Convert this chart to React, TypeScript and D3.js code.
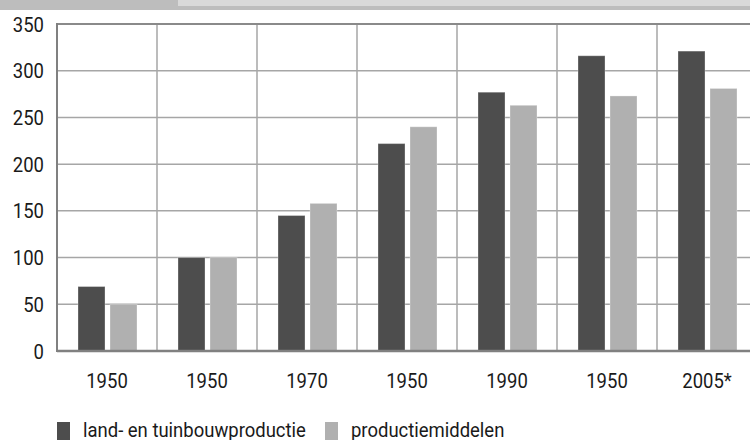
import React, { useRef, useEffect } from 'react';
import * as d3 from 'd3';

const categories = ['1950', '1950', '1970', '1950', '1990', '1950', '2005*'];
const productie = [69, 100, 145, 222, 277, 316, 321];
const middelen = [50, 100, 158, 240, 263, 273, 281];
const seriesNames = ['land- en tuinbouwproductie', 'productiemiddelen'];
const yTicks = [0, 50, 100, 150, 200, 250, 300, 350];

const colors = ['#4d4d4d', '#b0b0b0'];
const font = 'Roboto, "Noto Sans", sans-serif';
const squeeze = 'scale(0.88,1)'; // narrow look of the original typeface

export default function App() {
  const svgRef = useRef<SVGSVGElement>(null);

  useEffect(() => {
    const width = 750,
      height = 440;
    const margin = { top: 24, left: 57, bottom: 89 };

    const svg = d3.select(svgRef.current);
    svg.selectAll('*').remove();

    // header band (cut off at the top)
    svg.append('rect').attr('x', 0).attr('y', 0).attr('width', width).attr('height', 10).attr('fill', '#bdbdbd');
    svg.append('rect').attr('x', 178).attr('y', 0).attr('width', width - 178).attr('height', 6).attr('fill', '#d9d9d9');

    const idx = categories.map((_, i) => String(i));
    const x = d3.scaleBand().domain(idx).range([margin.left, margin.left + 700]).padding(0);
    const bw = x.bandwidth();
    const xi = d3
      .scaleBand()
      .domain(seriesNames)
      .range([bw * 0.21, bw * 0.8])
      .paddingInner(0.156)
      .paddingOuter(0);

    const y = d3.scaleLinear().domain([0, 350]).range([height - margin.bottom, margin.top]);

    // horizontal grid
    svg
      .append('g')
      .selectAll('line')
      .data(yTicks.filter(t => t > 0 && t < 350))
      .enter()
      .append('line')
      .attr('x1', margin.left)
      .attr('x2', width)
      .attr('y1', d => y(d))
      .attr('y2', d => y(d))
      .attr('stroke', '#a6a6a6')
      .attr('stroke-width', 1.5);

    // vertical grid
    svg
      .append('g')
      .selectAll('line')
      .data(idx.slice(1))
      .enter()
      .append('line')
      .attr('x1', d => x(d)!)
      .attr('x2', d => x(d)!)
      .attr('y1', y(350))
      .attr('y2', y(0))
      .attr('stroke', '#a6a6a6')
      .attr('stroke-width', 1.5);

    // top line
    svg
      .append('line')
      .attr('x1', margin.left)
      .attr('x2', width)
      .attr('y1', y(350))
      .attr('y2', y(350))
      .attr('stroke', '#8a8a8a')
      .attr('stroke-width', 2);

    // bars
    const values = [productie, middelen];
    seriesNames.forEach((s, si) => {
      svg
        .append('g')
        .selectAll('rect')
        .data(values[si])
        .enter()
        .append('rect')
        .attr('x', (_, i) => x(String(i))! + xi(s)!)
        .attr('y', d => y(d))
        .attr('width', xi.bandwidth())
        .attr('height', d => y(0) - y(d))
        .attr('fill', colors[si])
        .attr('stroke', 'rgba(255,255,255,0.3)')
        .attr('stroke-width', 1);
    });

    // axes lines
    svg
      .append('line')
      .attr('x1', margin.left)
      .attr('x2', margin.left)
      .attr('y1', y(350) - 1)
      .attr('y2', y(0) + 1)
      .attr('stroke', '#808080')
      .attr('stroke-width', 2);
    svg
      .append('line')
      .attr('x1', margin.left)
      .attr('x2', width)
      .attr('y1', y(0))
      .attr('y2', y(0))
      .attr('stroke', '#808080')
      .attr('stroke-width', 2.5);

    // y labels
    svg
      .append('g')
      .selectAll('text')
      .data(yTicks)
      .enter()
      .append('text')
      .attr('transform', d => 'translate(44,' + y(d) + ') ' + squeeze)
      .attr('dy', '0.36em')
      .attr('text-anchor', 'end')
      .attr('font-family', font)
      .attr('font-size', 21)
      .attr('fill', '#1a1a1a')
      .text(d => d);

    // x labels
    svg
      .append('g')
      .selectAll('text')
      .data(categories)
      .enter()
      .append('text')
      .attr('transform', (_, i) => 'translate(' + (x(String(i))! + bw / 2) + ',388) ' + squeeze)
      .attr('text-anchor', 'middle')
      .attr('font-family', font)
      .attr('font-size', 21)
      .attr('fill', '#1a1a1a')
      .text(d => d);

    // legend
    const legendX = [57, 325];
    const lg = svg
      .append('g')
      .selectAll('g')
      .data(seriesNames)
      .enter()
      .append('g')
      .attr('transform', (_, i) => 'translate(' + legendX[i] + ',422)');
    lg.append('rect').attr('width', 13).attr('height', 18).attr('fill', (_, i) => colors[i]);
    lg.append('text')
      .attr('transform', 'translate(26,15) ' + squeeze)
      .attr('font-family', font)
      .attr('font-size', 21)
      .attr('fill', '#1a1a1a')
      .text(d => d);
  }, []);

  return (
    <svg
      ref={svgRef}
      width={750}
      height={440}
      style={{ position: 'absolute', left: 0, top: 0, background: '#fff' }}
    />
  );
}
